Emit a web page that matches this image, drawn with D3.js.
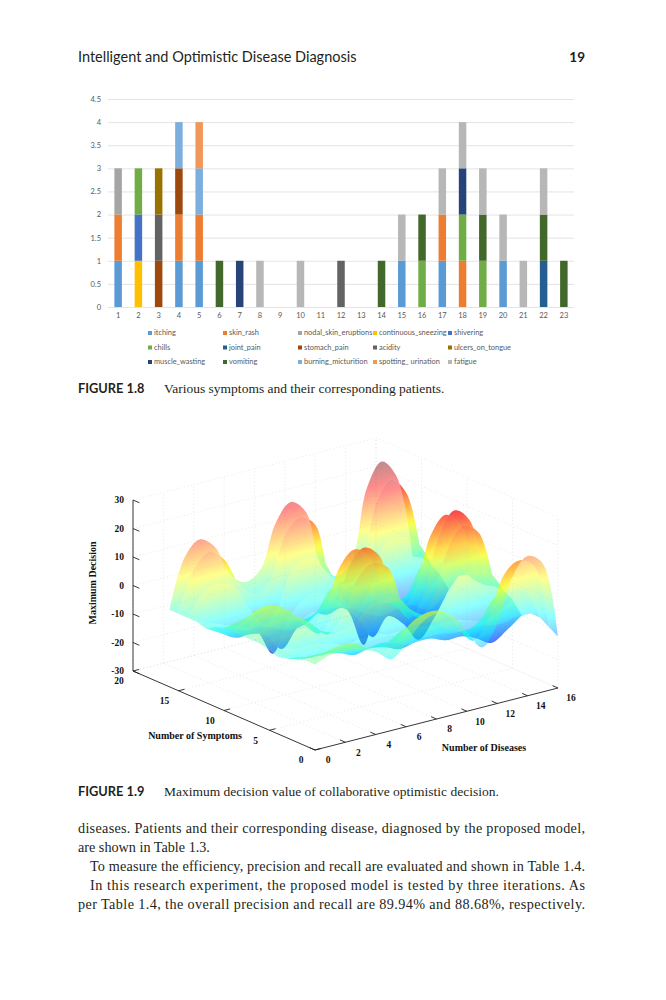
<!DOCTYPE html>
<html lang="en">
<head>
<meta charset="UTF-8">
<title>Figures 1.8 and 1.9</title>
<script src="https://d3js.org/d3.v7.min.js"></script>
<style>
    body { margin: 0; background: #fff; }
    svg { display: block; }
</style>
</head>
<body>
<div id="page"></div>
<script>
// ---------- Figure 1.8: symptoms reported by each patient ----------
const patients = ["1","2","3","4","5","6","7","8","9","10","11","12","13","14","15","16","17","18","19","20","21","22","23"];
const symptoms = ["itching","skin_rash","nodal_skin_eruptions","continuous_sneezing","shivering",
                  "chills","joint_pain","stomach_pain","acidity","ulcers_on_tongue",
                  "muscle_wasting","vomiting","burning_micturition","spotting_ urination","fatigue"];

const itching            = [1,0,0,1,1,0,0,0,0,0,0,0,0,0,1,0,1,0,0,1,0,0,0];
const skinRash           = [1,0,0,1,1,0,0,0,0,0,0,0,0,0,0,0,1,1,0,0,0,0,0];
const nodalEruptions     = [1,0,0,0,0,0,0,0,0,0,0,0,0,0,0,0,0,0,0,0,0,0,0];
const continuousSneezing = [0,1,0,0,0,0,0,0,0,0,0,0,0,0,0,0,0,0,0,0,0,0,0];
const shivering          = [0,1,0,0,0,0,0,0,0,0,0,0,0,0,0,0,0,0,0,0,0,0,0];
const chills             = [0,1,0,0,0,0,0,0,0,0,0,0,0,0,0,1,0,1,1,0,0,0,0];
const jointPain          = [0,0,0,0,0,0,0,0,0,0,0,0,0,0,0,0,0,0,0,0,0,1,0];
const stomachPain        = [0,0,1,1,0,0,0,0,0,0,0,0,0,0,0,0,0,0,0,0,0,0,0];
const acidity            = [0,0,1,0,0,0,0,0,0,0,0,1,0,0,0,0,0,0,0,0,0,0,0];
const ulcersOnTongue     = [0,0,1,0,0,0,0,0,0,0,0,0,0,0,0,0,0,0,0,0,0,0,0];
const muscleWasting      = [0,0,0,0,0,0,1,0,0,0,0,0,0,0,0,0,0,1,0,0,0,0,0];
const vomiting           = [0,0,0,0,0,1,0,0,0,0,0,0,0,1,0,1,0,0,1,0,0,1,1];
const burningMicturition = [0,0,0,1,1,0,0,0,0,0,0,0,0,0,0,0,0,0,0,0,0,0,0];
const spottingUrination  = [0,0,0,0,1,0,0,0,0,0,0,0,0,0,0,0,0,0,0,0,0,0,0];
const fatigue            = [0,0,0,0,0,0,0,1,0,1,0,0,0,0,1,0,1,1,1,1,1,1,0];

const symptomSeries = [itching, skinRash, nodalEruptions, continuousSneezing, shivering,
                       chills, jointPain, stomachPain, acidity, ulcersOnTongue,
                       muscleWasting, vomiting, burningMicturition, spottingUrination, fatigue];
const barTicks = [0,0.5,1,1.5,2,2.5,3,3.5,4,4.5];

// ---------- Figure 1.9: maximum decision surface ----------
const diseaseSteps = [0,1,2,3,4,5,6,7,8,9,10,11,12,13,14,15,16];
const symptomSteps = [0,1,2,3,4,5,6,7,8,9,10,11,12,13,14,15,16];
// one row per symptom step (front to back), one value per disease step
const decisionRows = [
    [ 0, 2,  2,  1, -1, -5, -1,  5,  7,  5, -2, -9, -2,  13, 19, 15,-12],
    [ 0, 1,  2,  2, -1, -4, -1,  4,  6,  5, -2, -8, -2,  12, 16, 13,-10],
    [-1,-1, -1, -1, -3, -4, -3,  0,  0,  0, -4, -6, -4,   3,  4,  3, -8],
    [-2,-3, -4, -4, -5, -6, -5, -6, -8, -7, -7, -8, -8,  -8, -9, -8, -8],
    [-3,-5, -6, -6, -7, -9, -8, -9,-11,-10,-10,-12,-12, -14,-17,-14,-10],
    [-2,-3, -4, -4, -5, -7, -6, -6, -7, -7, -7, -8, -8,  -9,-11, -9, -6],
    [-1, 0,  0,  0, -2, -4, -3,  2,  4,  3, -3, -6, -4,   4,  6,  4, -4],
    [-1, 3,  4,  3, -1, -6, -1, 11, 15, 12, -2, -8, -2,  14, 20, 16, -4],
    [-1, 4,  5,  4, -2, -7, -2, 13, 19, 15, -2,-10, -2,  17, 24, 19, -5],
    [-1, 3,  5,  4, -1, -6, -2, 12, 17, 13, -2, -8, -2,  15, 21, 16, -5],
    [-1, 0,  1,  0, -3, -5, -4,  3,  5,  3, -5, -7, -6,   3,  4,  3, -4],
    [-2,-4, -6, -6, -8,-10, -9, -6, -6, -8,-11,-13,-12, -12,-15,-12, -6],
    [-4,-7,-10,-10,-12,-18,-12, -8,-10, -9,-14,-22,-16, -20,-27,-21,-12],
    [-3,-5, -7, -9,-12,-21,-11, -5, -4, -7,-13,-26,-13, -14,-18,-15, -8],
    [-3, 4,  6,  4, -5,-12, -7,  5,  7,  4, -8,-16,-10,   5,  6,  4, -6],
    [-3,11, 16, 12,  2, -3,  0, 15, 20, 16, -3, -8, -4,  18, 25, 19, -5],
    [-3,14, 19, 15,  4,  0,  3, 18, 24, 19, -1, -6, -2,  22, 30, 23, -6]
];
const zTicks = [-30,-20,-10,0,10,20,30];
const diseaseTicks = [0,2,4,6,8,10,12,14,16];
const symptomTicks = [0,5,10,15,20];

// ---------- styles ----------
const symptomColors = ["#5b9bd5","#ed7d31","#a5a5a5","#ffc000","#4472c4",
                       "#70ad47","#255e91","#9e480e","#636363","#997300",
                       "#264478","#43682b","#7cafdd","#f1975a","#b7b7b7"];
const jetStops  = [0, 0.125, 0.375, 0.625, 0.875, 1];
const jetColors = ["#00008f","#0000ff","#00ffff","#ffff00","#ff0000","#800000"];
const serif = "'Liberation Serif', 'Times New Roman', serif";
const sans = "Lato, 'Open Sans', sans-serif";

const svg = d3.select("#page").append("svg")
    .attr("width", 666)
    .attr("height", 1000);

// ---------- running header ----------
svg.append("text").attr("x", 78).attr("y", 62)
    .attr("font-family", sans).attr("font-size", 14.5).attr("fill", "#231f20")
    .text("Intelligent and Optimistic Disease Diagnosis");
svg.append("text").attr("x", 585).attr("y", 62).attr("text-anchor", "end")
    .attr("font-family", sans).attr("font-size", 13.5).attr("font-weight", "bold").attr("fill", "#231f20")
    .text("19");

// ---------- Figure 1.8 stacked bars ----------
function drawBars() {
    const x = d3.scaleBand().domain(patients).range([108, 574])
        .paddingInner(0.63).paddingOuter(0.315);
    const y = d3.scaleLinear().domain([0, 4.5]).range([307, 99]);

    const g = svg.append("g");

    const yAxis = g.append("g")
        .attr("transform", "translate(108,0)")
        .call(d3.axisLeft(y).tickValues(barTicks).tickSize(-(574 - 108)).tickPadding(7)
            .tickFormat(d3.format("~g")));
    yAxis.select(".domain").remove();
    yAxis.selectAll("line").attr("stroke", "#d9d9d9").attr("stroke-width", 0.7);
    yAxis.selectAll("text").attr("font-family", sans).attr("font-size", 7.5).attr("fill", "#595959");

    const xAxis = g.append("g")
        .attr("transform", "translate(0,307)")
        .call(d3.axisBottom(x).tickSize(0).tickPadding(6));
    xAxis.select(".domain").remove();
    xAxis.selectAll("text").attr("font-family", sans).attr("font-size", 7.5).attr("fill", "#595959");

    // table for d3.stack built from the named arrays
    const table = patients.map((p, i) => {
        const row = { patient: p };
        symptoms.forEach((s, k) => { row[s] = symptomSeries[k][i]; });
        return row;
    });
    const stacked = d3.stack().keys(symptoms)(table);

    g.append("g").selectAll("g")
        .data(stacked)
        .join("g")
        .attr("fill", (d, k) => symptomColors[k])
        .selectAll("rect")
        .data(d => d.filter(v => v[1] > v[0]))
        .join("rect")
        .attr("x", d => x(d.data.patient))
        .attr("width", x.bandwidth())
        .attr("y", d => y(d[1]))
        .attr("height", d => y(d[0]) - y(d[1]));

    // legend, 5 columns by 3 rows
    const legend = g.append("g").selectAll("g")
        .data(symptoms)
        .join("g")
        .attr("transform", (d, i) => `translate(${148 + (i % 5) * 75},${333 + Math.floor(i / 5) * 14.5})`);
    legend.append("rect")
        .attr("x", 0).attr("y", -2).attr("width", 4).attr("height", 4)
        .attr("fill", (d, i) => symptomColors[i]);
    legend.append("text")
        .attr("x", 6).attr("dy", "0.33em")
        .attr("font-family", sans).attr("font-size", 7.4).attr("fill", "#595959")
        .text(d => d);
}

// ---------- Figure 1.9 surface ----------
function drawSurface() {
    const origin = [315, 750];        // diseases 0, symptoms 0, decision -30
    const diseaseEnd = [558, 688];    // diseases 16 on the front floor edge
    const symptomEnd = [133, 671];    // symptoms 20 on the left floor edge
    const dScale = d3.scaleLinear().domain([0, 16]).range([0, 1]);
    const sScale = d3.scaleLinear().domain([0, 20]).range([0, 1]);
    const zScale = d3.scaleLinear().domain([-30, 30]).range([0, -171]);

    const proj = (dv, sv, zv) => {
        const u = dScale(dv), v = sScale(sv);
        return [origin[0] + u * (diseaseEnd[0] - origin[0]) + v * (symptomEnd[0] - origin[0]),
                origin[1] + u * (diseaseEnd[1] - origin[1]) + v * (symptomEnd[1] - origin[1]) + zScale(zv)];
    };

    const g = svg.append("g");
    const defs = svg.append("defs");

    // dotted grid on the floor and the two back walls
    const gridLines = [];
    diseaseTicks.forEach(d => {
        gridLines.push([proj(d, 0, -30), proj(d, 20, -30)]);
        gridLines.push([proj(d, 20, -30), proj(d, 20, 30)]);
    });
    symptomTicks.forEach(s => {
        gridLines.push([proj(0, s, -30), proj(16, s, -30)]);
        gridLines.push([proj(16, s, -30), proj(16, s, 30)]);
    });
    zTicks.forEach(z => {
        gridLines.push([proj(0, 20, z), proj(16, 20, z)]);
        gridLines.push([proj(16, 20, z), proj(16, 0, z)]);
    });
    g.append("g").selectAll("line")
        .data(gridLines)
        .join("line")
        .attr("x1", d => d[0][0]).attr("y1", d => d[0][1])
        .attr("x2", d => d[1][0]).attr("y2", d => d[1][1])
        .attr("stroke", "#dadada").attr("stroke-width", 0.6)
        .attr("stroke-dasharray", "1,2.5");

    // axis lines
    const axisLines = [
        [proj(0, 20, -30), proj(0, 20, 30)],
        [proj(0, 0, -30), proj(0, 20, -30)],
        [proj(0, 0, -30), proj(16, 0, -30)]
    ];
    g.append("g").selectAll("line")
        .data(axisLines)
        .join("line")
        .attr("x1", d => d[0][0]).attr("y1", d => d[0][1])
        .attr("x2", d => d[1][0]).attr("y2", d => d[1][1])
        .attr("stroke", "#222").attr("stroke-width", 0.9);

    // tick marks
    const ticks = [];
    zTicks.forEach(z => ticks.push([proj(0, 20, z), proj(0, 19.3, z)]));
    symptomTicks.forEach(s => ticks.push([proj(0, s, -30), proj(0.4, s, -30)]));
    diseaseTicks.forEach(d => ticks.push([proj(d, 0, -30), proj(d, 0.6, -30)]));
    g.append("g").selectAll("line")
        .data(ticks)
        .join("line")
        .attr("x1", d => d[0][0]).attr("y1", d => d[0][1])
        .attr("x2", d => d[1][0]).attr("y2", d => d[1][1])
        .attr("stroke", "#222").attr("stroke-width", 0.9);

    const tickText = (sel) => sel.attr("font-family", serif).attr("font-weight", "bold")
        .attr("font-size", 9.5).attr("fill", "#111").attr("dy", "0.35em");

    g.append("g").selectAll("text").data(zTicks).join("text")
        .attr("x", d => proj(0, 20, d)[0] - 9)
        .attr("y", d => proj(0, 20, d)[1])
        .attr("text-anchor", "end")
        .call(tickText)
        .text(d => d);
    g.append("g").selectAll("text").data(symptomTicks).join("text")
        .attr("x", d => proj(0, d, -30)[0] - 14)
        .attr("y", d => proj(0, d, -30)[1] + 10)
        .attr("text-anchor", "middle")
        .call(tickText)
        .text(d => d);
    g.append("g").selectAll("text").data(diseaseTicks).join("text")
        .attr("x", d => proj(d, 0, -30)[0] + 13)
        .attr("y", d => proj(d, 0, -30)[1] + 10)
        .attr("text-anchor", "middle")
        .call(tickText)
        .text(d => d);

    const labelText = (sel) => sel.attr("font-family", serif).attr("font-weight", "bold")
        .attr("font-size", 10).attr("fill", "#111").attr("text-anchor", "middle");
    g.append("text").attr("transform", "translate(96,583) rotate(-90)").call(labelText).text("Maximum Decision");
    g.append("text").attr("x", 195).attr("y", 739).call(labelText).text("Number of Symptoms");
    g.append("text").attr("x", 484).attr("y", 751).call(labelText).text("Number of Diseases");

    // surface, drawn as strips from the back row to the front row
    const allZ = decisionRows.flat();
    const zMin = d3.min(allZ), zMax = d3.max(allZ);
    const jet = d3.scaleLinear().domain(jetStops).range(jetColors);

    // unit normal to the disease direction on screen, so colour bands follow constant height
    const ex = [diseaseEnd[0] - origin[0], diseaseEnd[1] - origin[1]];
    const len = Math.hypot(ex[0], ex[1]);
    const nrm = [-ex[1] / len, ex[0] / len];

    const curve = d3.line().curve(d3.curveCatmullRom.alpha(0.5));
    const strips = [];
    for (let j = symptomSteps.length - 2; j >= 0; j--) {
        const back = diseaseSteps.map((d, i) => proj(d, symptomSteps[j + 1], decisionRows[j + 1][i]));
        const front = diseaseSteps.map((d, i) => proj(d, symptomSteps[j], decisionRows[j][i])).reverse();
        const mid = (symptomSteps[j] + symptomSteps[j + 1]) / 2;
        const pTop = proj(8, mid, zMax), pBot = proj(8, mid, zMin);
        const L = (pBot[0] - pTop[0]) * nrm[0] + (pBot[1] - pTop[1]) * nrm[1];
        strips.push({
            id: "strip" + j,
            path: curve(back) + "L" + curve(front).slice(1) + "Z",
            g1: pTop,
            g2: [pTop[0] + nrm[0] * L, pTop[1] + nrm[1] * L]
        });
    }

    const grads = defs.selectAll("linearGradient").data(strips).join("linearGradient")
        .attr("id", d => d.id)
        .attr("gradientUnits", "userSpaceOnUse")
        .attr("x1", d => d.g1[0]).attr("y1", d => d.g1[1])
        .attr("x2", d => d.g2[0]).attr("y2", d => d.g2[1]);
    grads.selectAll("stop")
        .data(jetStops.slice().reverse())
        .join("stop")
        .attr("offset", t => 1 - t)
        .attr("stop-color", t => jet(t));

    g.append("g").selectAll("path")
        .data(strips)
        .join("path")
        .attr("d", d => d.path)
        .attr("fill", d => `url(#${d.id})`)
        .attr("fill-opacity", 0.45);
}

// ---------- captions and body text ----------
function drawText() {
    const caption = (y, num, text) => {
        svg.append("text").attr("x", 78).attr("y", y)
            .attr("font-family", sans).attr("font-weight", "bold").attr("font-size", 12.8).attr("fill", "#231f20")
            .text(num);
        svg.append("text").attr("x", 164).attr("y", y)
            .attr("font-family", serif).attr("font-size", 13.5).attr("fill", "#231f20")
            .text(text);
    };
    caption(393, "FIGURE 1.8", "Various symptoms and their corresponding patients.");
    caption(796, "FIGURE 1.9", "Maximum decision value of collaborative optimistic decision.");

    const lines = [
        { x: 78, y: 833, w: 507, t: "diseases. Patients and their corresponding disease, diagnosed by the proposed model," },
        { x: 78, y: 852, w: 0,   t: "are shown in Table 1.3." },
        { x: 90, y: 871, w: 495, t: "To measure the efficiency, precision and recall are evaluated and shown in Table 1.4." },
        { x: 90, y: 890, w: 495, t: "In this research experiment, the proposed model is tested by three iterations. As" },
        { x: 78, y: 909, w: 507, t: "per Table 1.4, the overall precision and recall are 89.94% and 88.68%, respectively." }
    ];
    svg.append("g").selectAll("text").data(lines).join("text")
        .attr("x", d => d.x).attr("y", d => d.y)
        .attr("font-family", serif).attr("font-size", 14.2).attr("fill", "#231f20")
        .each(function (d) {
            if (d.w) d3.select(this).attr("textLength", d.w).attr("lengthAdjust", "spacing");
        })
        .text(d => d.t);
}

drawBars();
drawSurface();
drawText();
</script>
</body>
</html>
